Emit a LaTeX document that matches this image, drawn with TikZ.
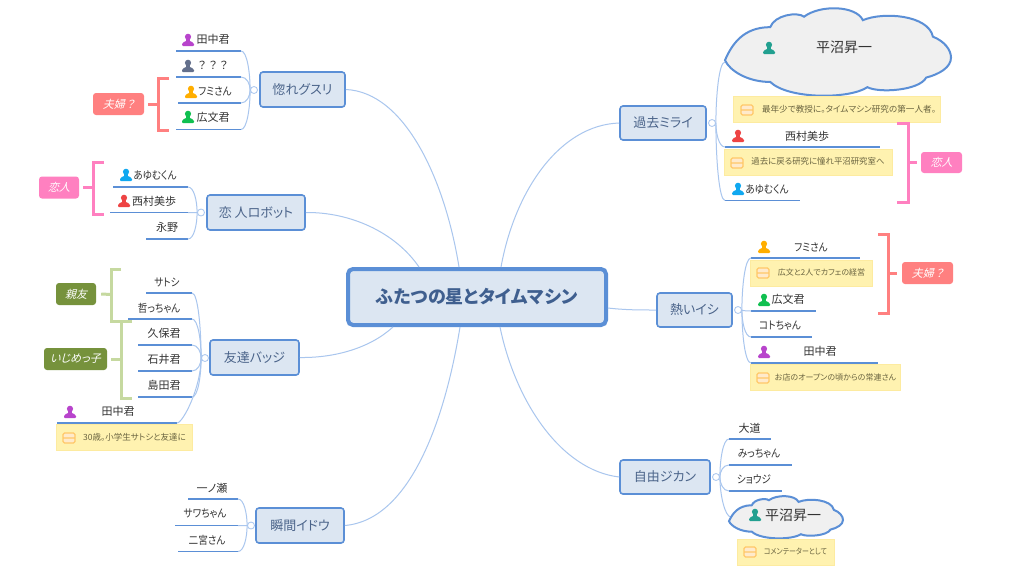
\documentclass[tikz,border=0pt]{standalone}
\usepackage{fontspec}
\usetikzlibrary{calc}
\setmainfont{Noto Sans CJK JP}[RawFeature=+palt]
\newfontfamily\tagfont{Noto Sans CJK JP}[FakeSlant=0.25,RawFeature=+palt]
\newfontfamily\kn{Noto Sans CJK JP}[FakeStretch=.87,RawFeature=+palt]
\definecolor{bluel}{HTML}{5B8FD6}
\definecolor{conn}{HTML}{A9C6EE}
\definecolor{boxf}{HTML}{DCE6F2}
\definecolor{boxt}{HTML}{4B648A}
\definecolor{titlec}{HTML}{3F5F8F}
\definecolor{txt}{HTML}{333333}
\definecolor{notef}{HTML}{FFF2B0}
\definecolor{notel}{HTML}{FDEBA0}
\definecolor{notet}{HTML}{6A6440}
\definecolor{noteic}{HTML}{FFC868}
\definecolor{tagr}{HTML}{FF8080}
\definecolor{tagp}{HTML}{FF80C0}
\definecolor{tagg}{HTML}{76923C}
\definecolor{brkg}{HTML}{C6D9A0}
\definecolor{pPur}{HTML}{B844CC}
\definecolor{pGry}{HTML}{64708C}
\definecolor{pOra}{HTML}{FFAE00}
\definecolor{pGrn}{HTML}{10C050}
\definecolor{pBlu}{HTML}{10A8F0}
\definecolor{pRed}{HTML}{EE4444}
\definecolor{pTea}{HTML}{22A090}
\tikzset{
  x=1pt,y=-1pt,
  mainbox/.style={draw=bluel,fill=boxf,line width=4pt,rounded corners=5pt,minimum width=258pt,minimum height=56pt,inner sep=0pt,text=titlec,font=\fontsize{18}{20}\selectfont\bfseries},
  topicbox/.style={draw=bluel,fill=boxf,line width=1.6pt,rounded corners=3pt,inner sep=0pt,text=boxt,font=\fontsize{13}{15}\selectfont},
  lbl/.style={text=txt,inner sep=0pt,font=\fontsize{11}{13}\selectfont},
  biglbl/.style={text=txt,inner sep=0pt,font=\fontsize{14}{16}\selectfont},
  under/.style={draw=bluel,line width=1.6pt},
  link/.style={draw=conn,line width=1pt},
  collapse/.style={circle,draw=conn,fill=white,line width=.8pt,minimum size=7pt,inner sep=0pt},
  notebox/.style={draw=notel,fill=notef,line width=.6pt,inner sep=0pt},
  notetxt/.style={text=notet,inner sep=0pt,font=\fontsize{8}{10}\selectfont},
  tagbox/.style={rounded corners=3pt,inner sep=0pt,text=white,font=\fontsize{11}{13}\tagfont},
  brk/.style={line width=3pt,line cap=butt,line join=miter},
  cloudshape/.style={draw=bluel,fill=black!6,line width=2pt},
}
\newcommand{\tpc}[7]{%
  \coordinate (#1a) at (#2,#4);\coordinate (#1b) at (#3,#4);
  \draw[under] (#1a)--(#1b);
  \node[lbl] (#1) at (#5,#6) {#7};}
\newcommand{\person}[3]{%
  \fill[#3,shift={(#1,#2)}] (0,-3.2) circle (3.1)
   (-1.8,-1) -- (1.8,-1) -- (1.8,1) .. controls (3,2) and (6,1.8) .. (6,4.2)
   -- (6,5) .. controls (6,5.8) and (5.5,6) .. (5,6) -- (-5,6) .. controls (-5.5,6) and (-6,5.8) .. (-6,5)
   -- (-6,4.2) .. controls (-6,1.8) and (-3,2) .. (-1.8,1) -- cycle;}
\newcommand{\noteic}[2]{%
  \draw[noteic,fill=notef!60!orange!35,line width=1.1pt,rounded corners=1.5pt,shift={(#1,#2)}] (-6,-5) rectangle (6,5) (-6,0) -- (6,0);}
\newcommand{\kidL}[2]{\draw[link] (#2) .. controls ($(#2)+(6,0)$) and ($(#1)!.45!(#1|-#2)$) .. (#1);}
\newcommand{\kidR}[2]{\draw[link] (#2) .. controls ($(#2)+(-6,0)$) and ($(#1)!.45!(#1|-#2)$) .. (#1);}
\newcommand{\cloudpath}{(0,60) .. controls (3,42) and (8,22) .. (20,22)
  .. controls (22,8) and (32,4) .. (35,10)
  .. controls (42,-4) and (58,-3) .. (61,14)
  .. controls (70,4) and (90,8) .. (92,33)
  .. controls (97,38) and (100,48) .. (100,57)
  .. controls (100,68) and (95,76) .. (89,80)
  .. controls (86,95) and (68,98) .. (63,91)
  .. controls (55,105) and (28,105) .. (20,85)
  .. controls (10,85) and (2,72) .. (0,60) -- cycle}
\begin{document}
\begin{tikzpicture}
\path[use as bounding box,fill=white] (0,0) rectangle (1024,576);
% centre
\node[mainbox] (main) at (477,297) {ふたつの星とタイムマシン};
% topics
\node[topicbox,minimum width=85pt,minimum height=35pt] (bA) at (302.5,89.5) {惚れグスリ};
\node[topicbox,minimum width=98pt,minimum height=35pt] (bB) at (256,212.5) {恋 人ロボット};
\node[topicbox,minimum width=89pt,minimum height=35pt] (bC) at (254.5,357.5) {友達バッジ};
\node[topicbox,minimum width=88pt,minimum height=35pt] (bD) at (300,525.5) {瞬間イドウ};
\node[topicbox,minimum width=86pt,minimum height=34pt] (bE) at (663,123) {過去ミライ};
\node[topicbox,minimum width=75pt,minimum height=34pt] (bF) at (694.5,310) {熱いイシ};
\node[topicbox,minimum width=90pt,minimum height=34pt] (bG) at (665,477) {自由ジカン};
% main links
\draw[link] (bA.east) .. controls (405,92) and (445,180) .. ([xshift=-18pt]main.north);
\draw[link] (bB.east) .. controls (350,212) and (395,232) .. ([xshift=-58pt]main.north);
\draw[link] (bC.east) .. controls (335,358) and (370,348) .. ([xshift=-84pt]main.south);
\draw[link] (bD.east) .. controls (410,520) and (445,420) .. ([xshift=-17pt]main.south);
\draw[link] (bE.west) .. controls (560,125) and (515,190) .. ([xshift=24pt]main.north);
\draw[link] (bF.west) .. controls (640,310) and (625,310) .. ([yshift=-11pt]main.east);
\draw[link] (bG.west) .. controls (560,470) and (515,400) .. ([xshift=23pt]main.south);
% collapse hubs
\node[collapse] (cA) at (254,90) {};
\node[collapse] (cB) at (201,212.5) {};
\node[collapse] (cC) at (205,358) {};
\node[collapse] (cD) at (251,525.5) {};
\node[collapse] (cE) at (712,123) {};
\node[collapse] (cF) at (738,310) {};
\node[collapse] (cG) at (716,477) {};
% A
\tpc{a1}{176}{241}{51}{213}{39.5}{田中君}
\tpc{a2}{176}{241}{77}{213}{65.5}{？\hspace{3pt}？\hspace{3pt}？}
\tpc{a3}{178}{241}{103}{215}{91}{\kn フミさん}
\tpc{a4}{176}{241}{129.5}{213}{117}{広文君}
\person{188}{40}{pPur}\person{188}{66}{pGry}\person{191}{92}{pOra}\person{188}{117}{pGrn}
\kidL{cA.west}{a1b}\kidL{cA.west}{a2b}\kidL{cA.west}{a3b}\kidL{cA.west}{a4b}
% B
\tpc{b1}{113}{188}{187}{155}{175}{\kn あゆむくん}
\tpc{b2}{110}{188}{212.5}{154}{201}{西村美歩}
\tpc{b3}{146}{188}{239}{167}{227}{永野}
\person{126}{175}{pBlu}\person{124}{201}{pRed}
\kidL{cB.west}{b1b}\kidL{cB.west}{b2b}\kidL{cB.west}{b3b}
% C
\tpc{c1}{146}{192}{293}{167}{282}{\kn サトシ}
\tpc{c2}{128}{192}{319}{159}{308}{\kn 哲っちゃん}
\tpc{c3}{138}{192}{345}{164}{333}{久保君}
\tpc{c4}{138}{192}{371}{164}{359}{石井君}
\tpc{c5}{138}{192}{397}{164}{385}{島田君}
\tpc{c6}{57}{177}{423}{118}{411}{田中君}
\person{70}{412}{pPur}
\kidL{cC.west}{c1b}\kidL{cC.west}{c2b}\kidL{cC.west}{c3b}\kidL{cC.west}{c4b}\kidL{cC.west}{c5b}\kidL{cC.west}{c6b}
\node[notebox,minimum width=136pt,minimum height=26pt] (nC) at (124,437) {};
\noteic{69}{438}
\node[notetxt,font=\fontsize{8.5}{10}\selectfont] (nCt) at (134.5,437) {30歳。小学生サトシと友達に};
% D
\tpc{d1}{188}{238}{499}{212}{488}{一ノ瀬}
\tpc{d2}{175}{238}{525.5}{205}{514}{\kn サワちゃん}
\tpc{d3}{178}{238}{551.5}{207}{540}{\kn 二宮さん}
\kidL{cD.west}{d1b}\kidL{cD.west}{d2b}\kidL{cD.west}{d3b}
% E
\coordinate (e0) at (725,62);
\tpc{e1}{725}{880}{147}{807}{136}{西村美歩}
\tpc{e2}{725}{800}{200.5}{767}{189}{\kn あゆむくん}
\kidR{cE.east}{e0}\kidR{cE.east}{e1a}\kidR{cE.east}{e2a}
\draw[cloudshape,shift={(725,8)},xscale=2.26,yscale=.87] \cloudpath;
\person{769}{48}{pTea}
\node[biglbl] (e0t) at (844,47) {平沼昇一};
\node[notebox,minimum width=207pt,minimum height=26pt] (nE1) at (836.5,109) {};
\noteic{747}{110}
\node[notetxt,font=\fontsize{8.6}{10}\selectfont] (nE1t) at (849,109) {最年少で教授に。タイムマシン研究の第一人者。};
\node[notebox,minimum width=168pt,minimum height=26pt] (nE2) at (808,162) {};
\noteic{737}{163}
\node[notetxt,font=\fontsize{8.4}{10}\selectfont] (nE2t) at (818,161) {過去に戻る研究に憧れ平沼研究室へ};
\person{738}{136}{pRed}\person{738}{189}{pBlu}
% F
\tpc{f1}{751}{860}{258}{811}{247}{\kn フミさん}
\tpc{f2}{751}{816}{311}{788}{299.5}{広文君}
\tpc{f3}{751}{812}{337}{780}{326}{\kn コトちゃん}
\tpc{f4}{751}{878}{363}{820}{351}{田中君}
\person{764}{247}{pOra}\person{764}{300}{pGrn}\person{764}{352}{pPur}
\kidR{cF.east}{f1a}\kidR{cF.east}{f2a}\kidR{cF.east}{f3a}\kidR{cF.east}{f4a}
\node[notebox,minimum width=122pt,minimum height=26pt] (nF1) at (811,273) {};
\noteic{763}{273}
\node[notetxt] (nF1t) at (821.5,272) {広文と2人でカフェの経営};
\node[notebox,minimum width=150pt,minimum height=26pt] (nF2) at (825,377) {};
\noteic{763}{378}
\node[notetxt] (nF2t) at (835.5,377) {お店のオープンの頃からの常連さん};
% G
\tpc{g1}{729}{771}{439}{749.5}{428}{大道}
\tpc{g2}{729}{792}{465}{759}{454}{\kn みっちゃん}
\tpc{g3}{729}{782}{491}{754}{479}{\kn ショウジ}
\coordinate (g0) at (731,517);
\kidR{cG.east}{g1a}\kidR{cG.east}{g2a}\kidR{cG.east}{g3a}\kidR{cG.east}{g0}
\draw[cloudshape,shift={(729,496)},xscale=1.14,yscale=.42] \cloudpath;
\person{755}{515}{pTea}
\node[biglbl] (g0t) at (793,515) {平沼昇一};
\node[notebox,minimum width=97pt,minimum height=26pt] (nG) at (785.5,552) {};
\noteic{750}{552}
\node[notetxt,font=\fontsize{8}{10}\kn] (nGt) at (795.5,551) {コメンテーターとして};
% brackets and tags
\node[tagbox,fill=tagr,minimum width=51pt,minimum height=22pt] (t1) at (118.5,104) {夫婦\hspace{1.5pt}？};
\draw[brk,tagr] (169,78.5) -| (158,130) -- (169,130);
\draw[brk,tagr] (158,104) -- ([xshift=4pt]t1.east);
\node[tagbox,fill=tagp,minimum width=40pt,minimum height=22pt] (t2) at (59,187.5) {恋人};
\draw[brk,tagp] (104,162) -| (93,214) -- (104,214);
\draw[brk,tagp] (93,187.5) -- ([xshift=4pt]t2.east);
\node[tagbox,fill=tagg,minimum width=40pt,minimum height=22pt] (t3) at (76,294) {親友};
\draw[brk,brkg] (121,269.5) -| (111.5,321) -- (121,321);
\draw[brk,brkg] (111.5,294.5) -- ([xshift=5pt]t3.east);
\node[tagbox,fill=tagg,minimum width=63pt,minimum height=22pt] (t4) at (75.5,359) {いじめっ子};
\draw[brk,brkg] (132,321) -| (121.5,398) -- (132,398);
\draw[brk,brkg] (121.5,359) -- ([xshift=4pt]t4.east);
\node[tagbox,fill=tagp,minimum width=41pt,minimum height=21pt] (t5) at (941.5,162.5) {恋人};
\draw[brk,tagp] (897,123.5) -| (908,202) -- (897,202);
\draw[brk,tagp] (908,162.5) -- ([xshift=-4pt]t5.west);
\node[tagbox,fill=tagr,minimum width=51pt,minimum height=22pt] (t6) at (927.5,273) {夫婦\hspace{1.5pt}？};
\draw[brk,tagr] (878,234) -| (888,313) -- (878,313);
\draw[brk,tagr] (888,273) -- ([xshift=-5pt]t6.west);
\end{tikzpicture}
\end{document}
